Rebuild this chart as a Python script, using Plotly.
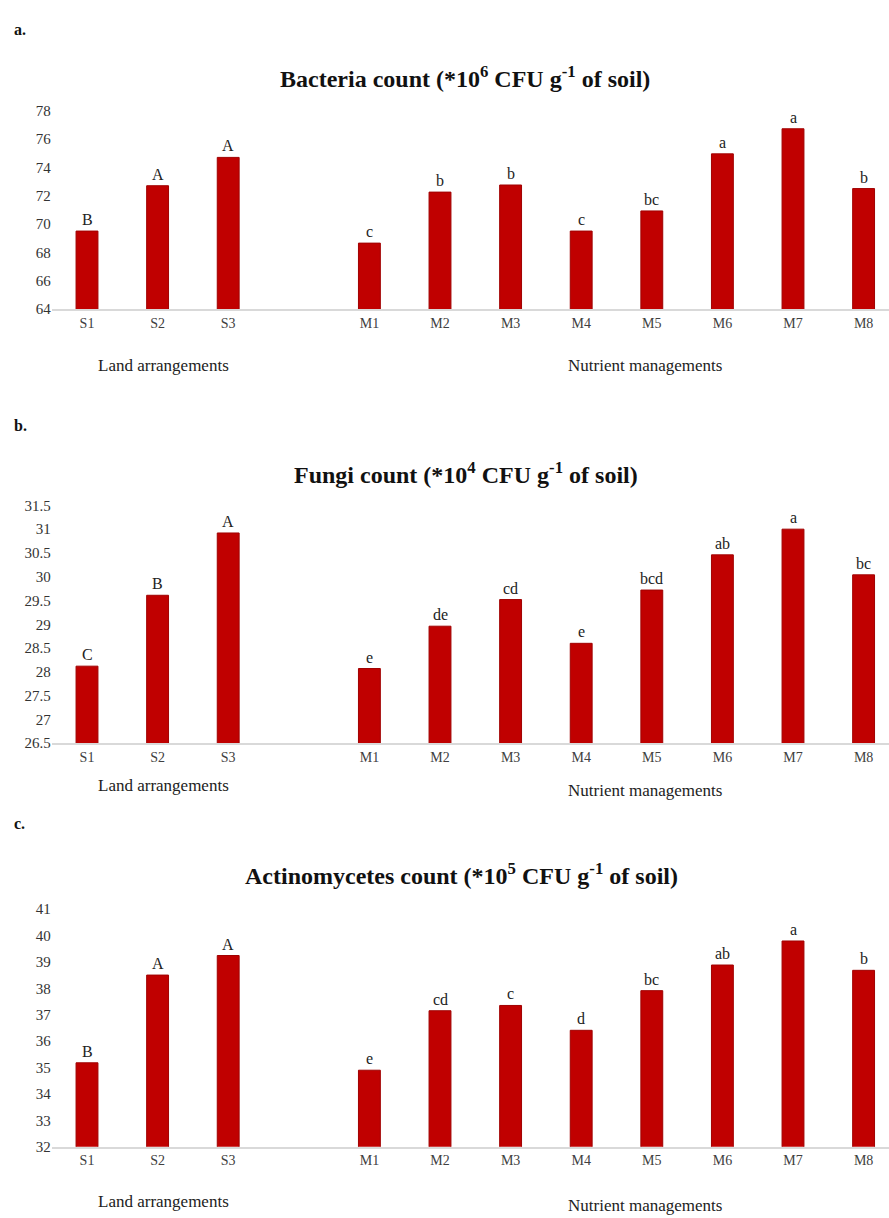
import plotly.graph_objects as go

categories = ["S1", "S2", "S3", "M1", "M2", "M3", "M4", "M5", "M6", "M7", "M8"]
cat_pos = [0, 1, 2, 4, 5, 6, 7, 8, 9, 10, 11]

bacteria = [69.5, 72.7, 74.7, 68.65, 72.25, 72.75, 69.5, 70.92, 74.95, 76.72, 72.5]
bacteria_letters = ["B", "A", "A", "c", "b", "b", "c", "bc", "a", "a", "b"]

fungi = [28.12, 29.61, 30.92, 28.07, 28.96, 29.52, 28.6, 29.72, 30.46, 31.0, 30.04]
fungi_letters = ["C", "B", "A", "e", "de", "cd", "e", "bcd", "ab", "a", "bc"]

actino = [35.18, 38.5, 39.24, 34.9, 37.15, 37.35, 36.41, 37.91, 38.88, 39.79, 38.68]
actino_letters = ["B", "A", "A", "e", "cd", "c", "d", "bc", "ab", "a", "b"]

W, H = 889, 1218
FONT = "Liberation Serif"
BAR = "#C00000"

panels = [
    dict(vals=bacteria, letters=bacteria_letters, rng=[64, 78], dtick=2, top=104, bot=305,
         title="Bacteria count (*10<sup>6</sup> CFU g<sup>-1</sup> of soil)", title_y=70, title_x=465,
         tag="a.", tag_y=22, land_y=362, nut_y=362),
    dict(vals=fungi, letters=fungi_letters, rng=[26.5, 31.5], dtick=0.5, top=504, bot=745,
         title="Fungi count (*10<sup>4</sup> CFU g<sup>-1</sup> of soil)", title_y=471, title_x=466,
         tag="b.", tag_y=423, land_y=788, nut_y=793),
    dict(vals=actino, letters=actino_letters, rng=[32, 41], dtick=1, top=913, bot=1154,
         title="Actinomycetes count (*10<sup>5</sup> CFU g<sup>-1</sup> of soil)", title_y=878, title_x=462,
         tag="c.", tag_y=826, land_y=1209, nut_y=1213),
]

fig = go.Figure()
annotations = []
left_px = 51.7
slot = 70.6
x_right = -0.5 + (W - left_px) / slot

for i, p in enumerate(panels):
    n = "" if i == 0 else str(i + 1)
    fig.add_trace(go.Bar(
        x=cat_pos, y=p["vals"],
        marker=dict(color=BAR, line=dict(color="#A00000", width=1)),
        width=0.31, xaxis="x" + n, yaxis="y" + n, showlegend=False,
    ))
    dom = [1 - p["bot"] / H, 1 - p["top"] / H]
    fig.update_layout(**{
        "xaxis" + n: dict(
            domain=[left_px / W, 1], range=[-0.5, x_right], anchor="y" + n,
            tickmode="array", tickvals=cat_pos, ticktext=categories,
            showgrid=False, zeroline=False, showline=True, linecolor="#d9d9d9", linewidth=1.5,
            ticks="", tickfont=dict(family=FONT, size=14, color="#404040"),
        ),
        "yaxis" + n: dict(
            domain=dom, range=p["rng"], dtick=p["dtick"], anchor="x" + n,
            showgrid=False, zeroline=False, showline=False, ticks="",
            tickfont=dict(family=FONT, size=15, color="#333333"),
        ),
    })
    for xp, v, lt in zip(cat_pos, p["vals"], p["letters"]):
        annotations.append(dict(
            x=xp, y=v, xref="x" + n, yref="y" + n, text=lt, showarrow=False,
            yanchor="bottom", yshift=1, font=dict(family=FONT, size=16, color="#222"),
        ))
    annotations.append(dict(
        x=p["title_x"] / W, y=1 - p["title_y"] / H, xref="paper", yref="paper",
        text="<b>" + p["title"] + "</b>",
        showarrow=False, xanchor="center", yanchor="middle",
        font=dict(family=FONT, size=24, color="#111"),
    ))
    annotations.append(dict(
        x=12 / W, y=1 - p["tag_y"] / H, xref="paper", yref="paper", text="<b>" + p["tag"] + "</b>",
        showarrow=False, xanchor="left", yanchor="middle",
        font=dict(family=FONT, size=16, color="#111"),
    ))
    annotations.append(dict(
        x=163 / W, y=1 - p["land_y"] / H, xref="paper", yref="paper", text="Land arrangements",
        showarrow=False, xanchor="center", yanchor="middle",
        font=dict(family=FONT, size=17, color="#222"),
    ))
    annotations.append(dict(
        x=645 / W, y=1 - p["nut_y"] / H, xref="paper", yref="paper", text="Nutrient managements",
        showarrow=False, xanchor="center", yanchor="middle",
        font=dict(family=FONT, size=17, color="#222"),
    ))

fig.update_layout(
    width=W, height=H, margin=dict(l=0, r=0, t=0, b=0),
    paper_bgcolor="white", plot_bgcolor="white",
    annotations=annotations,
)

fig.write_html("out.html")
